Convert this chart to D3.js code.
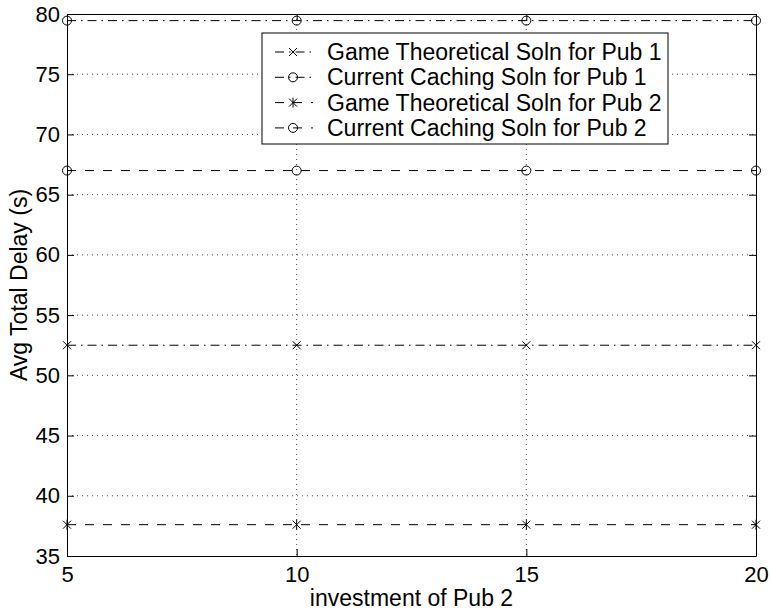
<!DOCTYPE html>
<html>
<head>
<meta charset="utf-8">
<script src="https://cdn.jsdelivr.net/npm/d3@7"></script>
<style>
  body { margin: 0; background: #fff; }
  text { font-family: "Liberation Sans", Arial, Helvetica, sans-serif; fill: #000; }
</style>
</head>
<body>
<div class="chartDiv"></div>
<script>
"use strict";

// x values (investment of Pub 2)
var investment = [5, 10, 15, 20];

// avg total delay for each series
var gamePub1 = [52.5, 52.5, 52.5, 52.5];
var currentPub1 = [79.45, 79.45, 79.45, 79.45];
var gamePub2 = [37.6, 37.6, 37.6, 37.6];
var currentPub2 = [67.0, 67.0, 67.0, 67.0];

var seriesNames = [
  "Game Theoretical Soln for Pub 1",
  "Current Caching Soln for Pub 1",
  "Game Theoretical Soln for Pub 2",
  "Current Caching Soln for Pub 2"
];

var xTicks = [5, 10, 15, 20];
var yTicks = [35, 40, 45, 50, 55, 60, 65, 70, 75, 80];

var xLabel = "investment of Pub 2";
var yLabel = "Avg Total Delay (s)";

var W = 771, H = 613;
var margin = {top: 14, right: 15, bottom: 57, left: 67};
var width = W - margin.left - margin.right;
var height = H - margin.top - margin.bottom;

var x = d3.scaleLinear().domain([5, 20]).range([0, width]);
var y = d3.scaleLinear().domain([35, 80]).range([height, 0]);

var svg = d3.select(".chartDiv").append("svg")
    .attr("width", W)
    .attr("height", H);

var g = svg.append("g")
    .attr("transform", "translate(" + margin.left + "," + margin.top + ")");

// dotted grid
g.append("g").selectAll("line")
    .data(xTicks.slice(1, -1))
  .enter().append("line")
    .attr("x1", function(d) { return x(d); })
    .attr("x2", function(d) { return x(d); })
    .attr("y1", 0).attr("y2", height)
    .style("stroke", "#000").style("stroke-width", 0.7)
    .style("stroke-dasharray", "1,4");

g.append("g").selectAll("line")
    .data(yTicks.slice(1, -1))
  .enter().append("line")
    .attr("x1", 0).attr("x2", width)
    .attr("y1", function(d) { return y(d); })
    .attr("y2", function(d) { return y(d); })
    .style("stroke", "#000").style("stroke-width", 0.7)
    .style("stroke-dasharray", "1,4");

// axes, ticks pointing inwards like matlab
var tickFont = 22;
var labelFont = 23;
var xAxis = g.append("g")
    .attr("transform", "translate(0," + height + ")")
    .call(d3.axisBottom(x).tickValues(xTicks).tickSizeInner(-7).tickSizeOuter(0).tickPadding(10));
var yAxis = g.append("g")
    .call(d3.axisLeft(y).tickValues(yTicks).tickSizeInner(-7).tickSizeOuter(0).tickPadding(7));
var xAxisTop = g.append("g")
    .call(d3.axisTop(x).tickValues(xTicks).tickSizeInner(-7).tickSizeOuter(0).tickFormat(""));
var yAxisRight = g.append("g")
    .attr("transform", "translate(" + width + ",0)")
    .call(d3.axisRight(y).tickValues(yTicks).tickSizeInner(-7).tickSizeOuter(0).tickFormat(""));

[xAxis, yAxis, xAxisTop, yAxisRight].forEach(function(a) {
  a.selectAll("path, line").style("stroke", "#000").style("stroke-width", 1);
  a.selectAll("text").style("font-size", tickFont + "px")
    .style("font-family", "'Liberation Sans', Arial, sans-serif");
});

// series definitions: values, dash pattern and marker
var dashDot = "9,5,1.5,5";
var dashed = "9,9";
var series = [
  {name: seriesNames[0], values: gamePub1, dash: dashDot, marker: "x"},
  {name: seriesNames[1], values: currentPub1, dash: dashDot, marker: "o"},
  {name: seriesNames[2], values: gamePub2, dash: dashed, marker: "*"},
  {name: seriesNames[3], values: currentPub2, dash: dashed, marker: "o"}
];

var valueline = d3.line()
    .x(function(d, i) { return x(investment[i]); })
    .y(function(d) { return y(d); });

function drawMarker(sel, type, cx, cy) {
  if (type === "o") {
    sel.append("circle")
      .attr("cx", cx).attr("cy", cy).attr("r", 4.5)
      .style("fill", "none").style("stroke", "#000").style("stroke-width", 1);
  } else {
    var s = 4;
    var p = "M" + (cx - s) + "," + (cy - s) + "L" + (cx + s) + "," + (cy + s) +
            "M" + (cx - s) + "," + (cy + s) + "L" + (cx + s) + "," + (cy - s);
    if (type === "*") {
      p += "M" + cx + "," + (cy - s - 1) + "L" + cx + "," + (cy + s + 1);
    }
    sel.append("path").attr("d", p)
      .style("fill", "none").style("stroke", "#000").style("stroke-width", 1);
  }
}

series.forEach(function(s) {
  g.append("path")
    .attr("d", valueline(s.values))
    .style("fill", "none")
    .style("stroke", "#000")
    .style("stroke-width", 1)
    .style("stroke-dasharray", s.dash);
  var mg = g.append("g");
  s.values.forEach(function(v, i) {
    drawMarker(mg, s.marker, x(investment[i]), y(v));
  });
});

// axis labels
svg.append("text")
    .attr("x", margin.left + width / 2)
    .attr("y", H - 7)
    .attr("text-anchor", "middle")
    .style("font-size", labelFont + "px")
    .text(xLabel);

svg.append("text")
    .attr("transform", "translate(27," + (margin.top + height / 2) + ") rotate(-90)")
    .attr("text-anchor", "middle")
    .style("font-size", labelFont + "px")
    .text(yLabel);

// legend
var lg = svg.append("g").attr("transform", "translate(262,33)");
lg.append("rect")
    .attr("width", 406).attr("height", 111)
    .style("fill", "#fff").style("stroke", "#000").style("stroke-width", 1);

series.forEach(function(s, i) {
  var ry = 19 + i * 25.3;
  lg.append("line")
    .attr("x1", 13).attr("x2", 51)
    .attr("y1", ry).attr("y2", ry)
    .style("stroke", "#000").style("stroke-width", 1)
    .style("stroke-dasharray", s.dash);
  drawMarker(lg, s.marker, 31, ry);
  lg.append("text")
    .attr("x", 65).attr("y", ry)
    .attr("dy", "0.35em")
    .style("font-size", labelFont + "px")
    .text(s.name);
});
</script>
</body>
</html>
